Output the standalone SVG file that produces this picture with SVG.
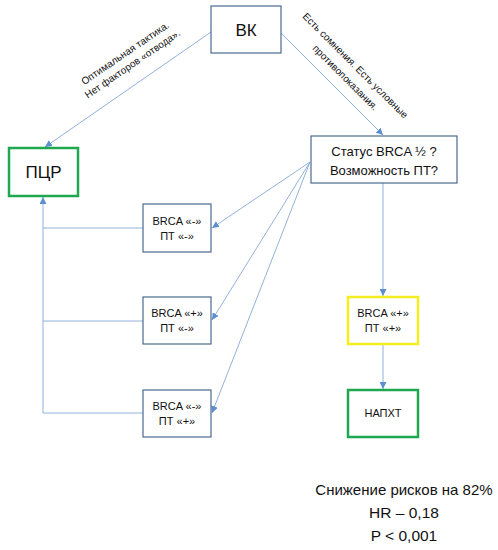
<svg xmlns="http://www.w3.org/2000/svg" width="498" height="550" viewBox="0 0 498 550">
<defs>
<marker id="ah" viewBox="0 0 10 10" refX="10" refY="5" markerWidth="7" markerHeight="7" orient="auto" markerUnits="userSpaceOnUse">
<path d="M0,0 L10,5 L0,10 z" fill="#5b8fd0"/>
</marker>
<style>
.box{fill:#fff;stroke:#4a6a90;stroke-width:1.2}
.g{fill:#fff;stroke:#1fa84f;stroke-width:2.5}
.y{fill:#fff;stroke:#f5ee1e;stroke-width:2.5}
.c{fill:none;stroke:#92b2da;stroke-width:1}
.t{font-family:"Liberation Sans",Arial,sans-serif;fill:#111;text-anchor:middle}
.lbl{font-family:"Liberation Sans",Arial,sans-serif;fill:#111;font-size:10px;text-anchor:middle}
</style>
</defs>
<rect width="498" height="550" fill="#fff"/>
<g id="connectors">
<line class="c" x1="211" y1="32" x2="45" y2="147" marker-end="url(#ah)"/>
<line class="c" x1="280" y1="32" x2="383" y2="135" marker-end="url(#ah)"/>
<line class="c" x1="310" y1="162" x2="212" y2="228" marker-end="url(#ah)"/>
<line class="c" x1="310" y1="162" x2="212" y2="320" marker-end="url(#ah)"/>
<line class="c" x1="310" y1="162" x2="212" y2="413" marker-end="url(#ah)"/>
<line class="c" x1="383" y1="183" x2="383" y2="296" marker-end="url(#ah)"/>
<line class="c" x1="383" y1="344" x2="383" y2="389" marker-end="url(#ah)"/>
<polyline class="c" points="143,413 43,413 43,197" marker-end="url(#ah)"/>
<line class="c" x1="143" y1="228" x2="43" y2="228"/>
<line class="c" x1="143" y1="321" x2="43" y2="321"/>
<g class="lbl" transform="translate(127,56) rotate(-34.4)"><text x="0" y="0">Оптимальная тактика.</text><text x="0" y="13">Нет факторов «отвода».</text></g>
<g class="lbl"><text transform="translate(353,68) rotate(45)">Есть сомнения. Есть условные</text><text transform="translate(343,80) rotate(45)">противопоказания.</text></g>
</g>
<g id="vk"><rect class="box" x="211" y="6" width="70" height="47"/><text class="t" x="246" y="36" font-size="17">ВК</text></g>
<g id="pcr"><rect class="g" x="9" y="148" width="69" height="48"/><text class="t" x="43.5" y="178" font-size="17">ПЦР</text></g>
<g id="status"><rect class="box" x="311" y="136" width="146" height="47"/><text class="t" x="384" y="156" font-size="13">Статус BRCA ½ ?</text><text class="t" x="384" y="175" font-size="13">Возможность ПТ?</text></g>
<g id="b1"><rect class="box" x="143" y="204" width="68" height="48"/><text class="t" x="177" y="225" font-size="11">BRCA «-»</text><text class="t" x="177" y="240" font-size="11">ПТ «-»</text></g>
<g id="b2"><rect class="box" x="143" y="297" width="68" height="47"/><text class="t" x="177" y="317" font-size="11">BRCA «+»</text><text class="t" x="177" y="332" font-size="11">ПТ «-»</text></g>
<g id="b3"><rect class="box" x="143" y="390" width="68" height="47"/><text class="t" x="177" y="410" font-size="11">BRCA «-»</text><text class="t" x="177" y="425" font-size="11">ПТ «+»</text></g>
<g id="b4"><rect class="y" x="348" y="297" width="70" height="47"/><text class="t" x="383" y="317" font-size="11">BRCA «+»</text><text class="t" x="383" y="332" font-size="11">ПТ «+»</text></g>
<g id="napht"><rect class="g" x="348" y="390" width="70" height="47"/><text class="t" x="383" y="417" font-size="11">НАПХТ</text></g>
<g id="stats"><text class="t" x="404" y="495" font-size="15">Снижение рисков на 82%</text><text class="t" x="404" y="518" font-size="15.5">HR – 0,18</text><text class="t" x="404" y="541" font-size="15.5">P &lt; 0,001</text></g>
</svg>
